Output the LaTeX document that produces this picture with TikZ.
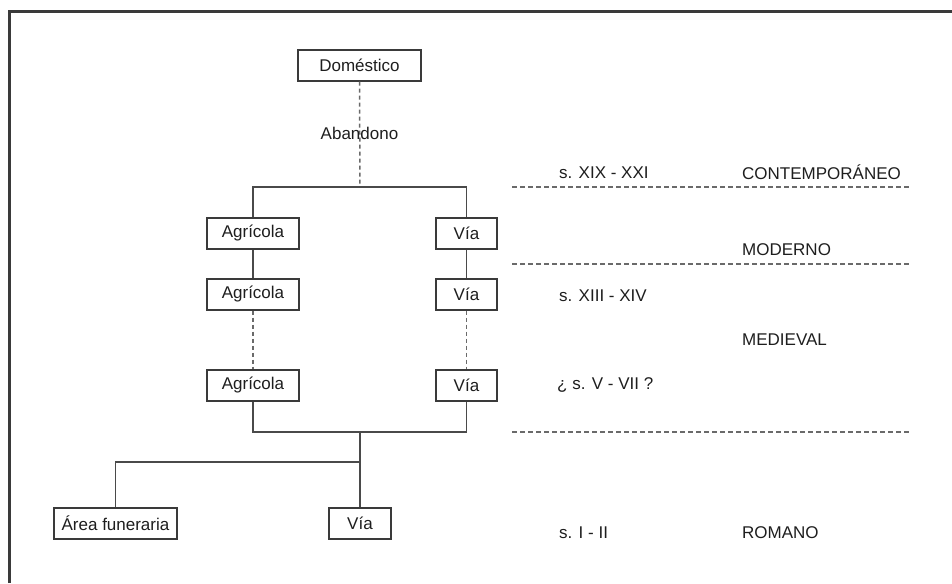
\documentclass[tikz,border=0pt]{standalone}
\usepackage{fontspec}
\setmainfont{Liberation Sans}
\definecolor{boxline}{HTML}{3A3A3A}
\definecolor{conline}{HTML}{4A4A4A}
\definecolor{dashline}{HTML}{6A6A6A}
\definecolor{txt}{HTML}{1E1E1E}
\begin{document}
\begin{tikzpicture}[x=1pt,y=-1pt,
  every node/.style={font=\fontsize{17}{20}\selectfont, text=txt, inner sep=0pt},
  unitbox/.style={draw=boxline, line width=1.4pt, minimum height=31pt, fill=white},
  conn/.style={draw=conline, line width=1.4pt},
  dconn/.style={draw=dashline, line width=1.5pt, dash pattern=on 4pt off 3pt},
  period/.style={draw=dashline, line width=1.3pt, dash pattern=on 5pt off 3pt},
  lbl/.style={anchor=west}]
\useasboundingbox (0,0) rectangle (952,583);
% frame
\draw[draw=boxline, line width=2.4pt] (9.5,583) -- (9.5,11.5) -- (952,11.5);
% boxes
\node[unitbox, minimum width=123pt] (dom) at (359.5,65.5) {Doméstico};
\node[unitbox, minimum width=92pt] (ag1) at (253,233.5) {Agrícola};
\node[unitbox, minimum width=92pt] (ag2) at (253,294.5) {Agrícola};
\node[unitbox, minimum width=92pt] (ag3) at (253,385.5) {Agrícola};
\node[unitbox, minimum width=61pt] (v1) at (466.5,233.5) {Vía};
\node[unitbox, minimum width=61pt] (v2) at (466.5,294.5) {Vía};
\node[unitbox, minimum width=61pt] (v3) at (466.5,385.5) {Vía};
\node[unitbox, minimum width=123pt] (af) at (115.5,523.5) {Área funeraria};
\node[unitbox, minimum width=62pt] (vb) at (360,523.5) {Vía};
% junctions
\coordinate (j1) at (360,187);
\coordinate (j2) at (360,432);
\coordinate (j3) at (360,462);
% connectors
\draw[dconn] (dom.south) -- (j1);
\node (aban) at (359.5,133) {Abandono};
\draw[conn] (ag1.north) |- (j1) -| (v1.north);
\draw[conn] (ag1) -- (ag2);
\draw[conn] (v1) -- (v2);
\draw[dconn] (ag2) -- (ag3);
\draw[dconn] (v2) -- (v3);
\draw[conn] (ag3.south) |- (j2) -| (v3.south);
\draw[conn] (j2) -- (vb.north);
\draw[conn] (j3) -| (af.north);
% period separators
\coordinate (p1a) at (512,187); \coordinate (p1b) at (910,187);
\coordinate (p2a) at (512,264); \coordinate (p2b) at (910,264);
\coordinate (p3a) at (512,432); \coordinate (p3b) at (910,432);
\draw[period] (p1a) -- (p1b);
\draw[period] (p2a) -- (p2b);
\draw[period] (p3a) -- (p3b);
% labels
\node[lbl] (c1) at (559,172.5) {s. XIX - XXI};
\node[lbl] (e1) at (742,172.5) {CONTEMPORÁNEO};
\node[lbl] (e2) at (742,250) {MODERNO};
\node[lbl] (c2) at (559,296) {s. XIII - XIV};
\node[lbl] (e3) at (742,340) {MEDIEVAL};
\node[lbl] (c3) at (557,385) {¿ s. V - VII ?};
\node[lbl] (c4) at (559,533) {s. I - II};
\node[lbl] (e4) at (742,533) {ROMANO};
\end{tikzpicture}
\end{document}
